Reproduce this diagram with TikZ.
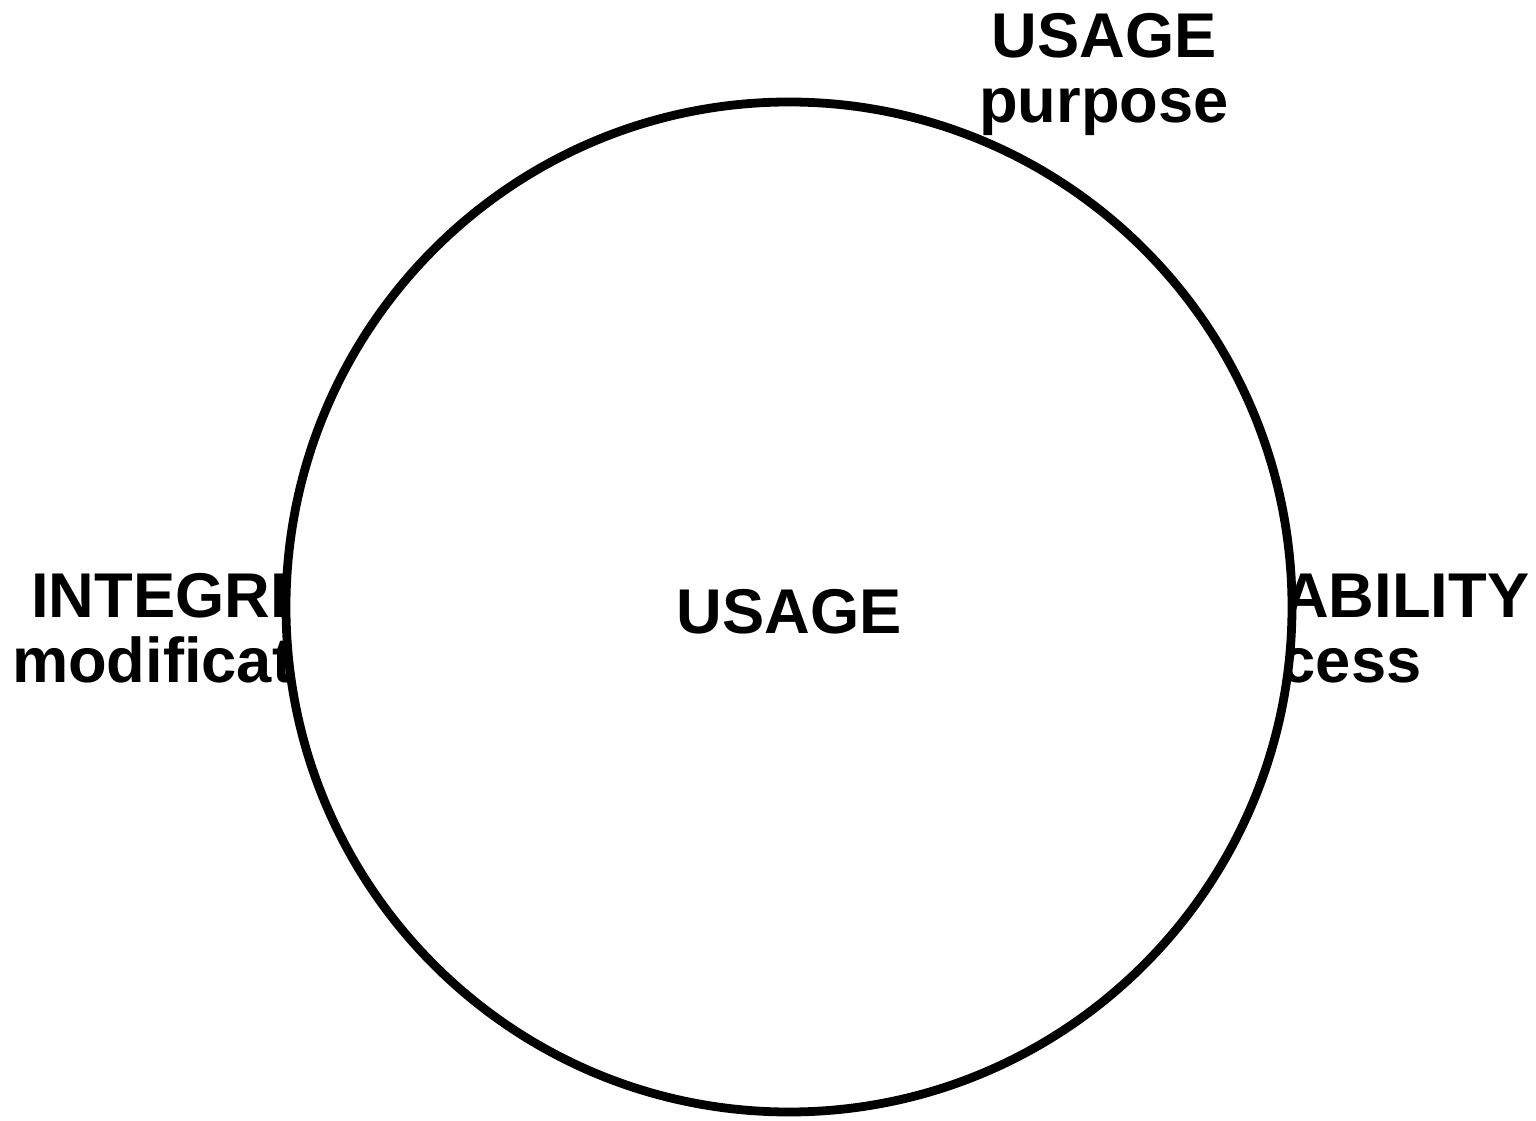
\documentclass[tikz,border=0pt]{standalone}
\usepackage{fontspec}
\setmainfont{Liberation Sans}
\tikzset{
  lbl/.style={font=\fontsize{36}{37}\selectfont\bfseries, align=center, inner sep=0pt},
  ring/.style={draw, line width=5pt, fill=white}
}
\begin{document}
\begin{tikzpicture}[x=0.02cm, y=-0.02cm]
  \useasboundingbox (0,0) rectangle (1536,1121);
  \node [lbl, anchor=base] (integrity) at (200,683) {INTEGRITY\\modification};
  \node [lbl, anchor=base] (availability) at (1316,683) {AVAILABILITY\\access};
  \draw [ring] (789,607) coordinate (c) ellipse (503 and 505);
  \node [lbl, anchor=base] (usage) at (c |- 0,634) {USAGE};
  \node [lbl, anchor=base] (purpose) at (1104,123) {USAGE\\purpose};
\end{tikzpicture}
\end{document}
